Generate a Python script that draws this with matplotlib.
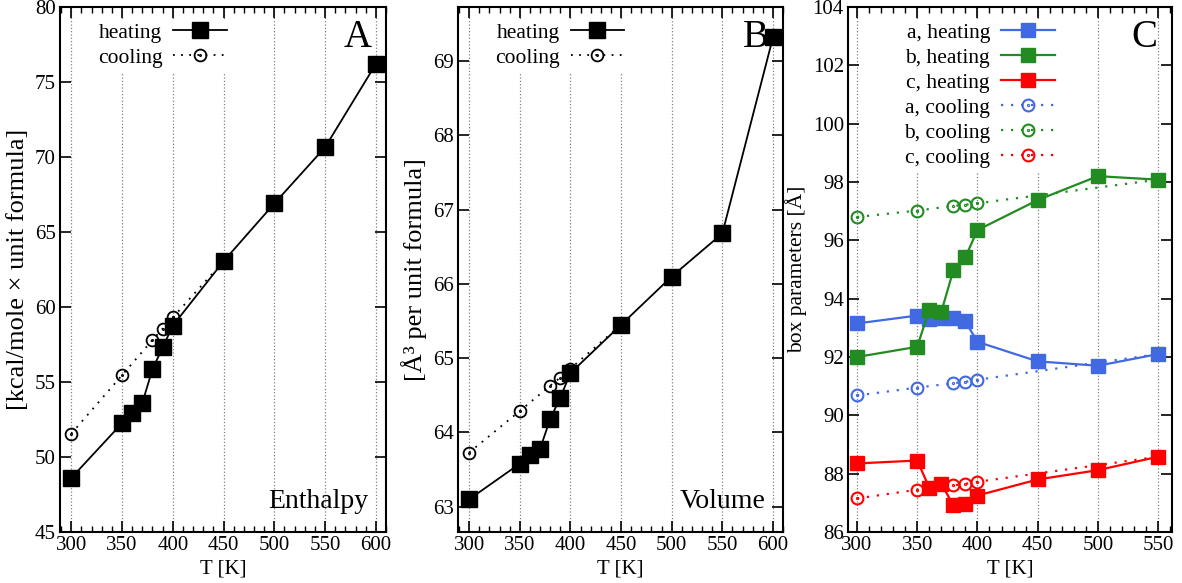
import matplotlib
matplotlib.use("Agg")
import matplotlib.pyplot as plt
from matplotlib.path import Path
from matplotlib.ticker import MultipleLocator

plt.rcParams['font.family'] = ['Liberation Serif', 'DejaVu Serif']

# ---- data ----
T_heat = [300, 350, 360, 370, 380, 390, 400, 450, 500, 550, 600]
T_cool = [300, 350, 380, 390, 400, 450]

enth_heat = [48.6, 52.25, 52.95, 53.6, 55.85, 57.3, 58.75, 63.05, 66.9, 70.65, 76.2]
enth_cool = [51.55, 55.45, 57.8, 58.55, 59.3, 63.05]

vol_heat = [63.1, 63.58, 63.7, 63.78, 64.18, 64.47, 64.8, 65.45, 66.1, 66.68, 69.32]
vol_cool = [63.73, 64.29, 64.63, 64.74, 64.86, 65.45]

T_box_heat = [300, 350, 360, 370, 380, 390, 400, 450, 500, 550]
T_box_cool = [300, 350, 380, 390, 400, 550]
a_heat = [93.15, 93.42, 93.3, 93.32, 93.32, 93.22, 92.52, 91.85, 91.7, 92.1]
b_heat = [92.0, 92.35, 93.62, 93.55, 94.97, 95.42, 96.35, 97.38, 98.2, 98.08]
c_heat = [88.35, 88.45, 87.52, 87.65, 86.92, 86.95, 87.25, 87.8, 88.12, 88.58]
a_cool = [90.68, 90.95, 91.1, 91.15, 91.22, 92.1]
b_cool = [96.8, 97.02, 97.18, 97.22, 97.27, 98.08]
c_cool = [87.15, 87.45, 87.6, 87.65, 87.72, 88.58]

# circle with a dot in the middle (gnuplot-like)
dot_circle = Path.make_compound_path(Path.unit_circle(), Path.circle((0, 0), 0.1))
dotted = (0, (1, 3.5))

TICK_FS = 15
LEG_FS = 15.5

fig = plt.figure(figsize=(11.82, 5.83), dpi=100)
axA = fig.add_axes([0.0508, 0.0875, 0.2758, 0.9005])
axB = fig.add_axes([0.3875, 0.0875, 0.2750, 0.9005])
axC = fig.add_axes([0.7174, 0.0875, 0.2741, 0.9005])


def style_axis(ax, xlim, ylim, ystep):
    ax.set_xlim(*xlim)
    ax.set_ylim(*ylim)
    ax.xaxis.set_major_locator(MultipleLocator(50))
    ax.xaxis.set_minor_locator(MultipleLocator(10))
    ax.yaxis.set_major_locator(MultipleLocator(ystep))
    ax.tick_params(axis='both', which='both', direction='in', top=True, right=True,
                   labelsize=TICK_FS, pad=3)
    ax.tick_params(which='major', length=8, width=1.2)
    ax.tick_params(which='minor', length=4, width=1.0)
    ax.tick_params(axis='y', which='minor', left=False, right=False)
    ax.grid(True, axis='x', which='major', linestyle=':', color='gray', linewidth=0.9)
    ax.set_axisbelow(True)
    for sp in ax.spines.values():
        sp.set_linewidth(1.5)
    ax.set_xlabel('T [K]', fontsize=TICK_FS, labelpad=3)


def make_legend(ax, handles, x_right):
    leg = ax.legend(handles, [h.get_label() for h in handles], loc='upper right',
                    bbox_to_anchor=(x_right, 0.978), borderaxespad=0,
                    markerfirst=False, numpoints=1, handlelength=2.5, handletextpad=0.5,
                    labelspacing=0.23, borderpad=0.2, fontsize=LEG_FS, frameon=True,
                    framealpha=1, facecolor='white', edgecolor='none', fancybox=False)
    leg.set_zorder(2.5)
    return leg


def black_panel(ax, x_h, y_h, x_c, y_c, ylim, ystep, ylabel, letter, name):
    cool, = ax.plot(x_c, y_c, linestyle=dotted, color='black', lw=1.3, marker=dot_circle,
                    ms=8.5, mfc='none', mec='black', mew=1.3, label='cooling', zorder=3)
    heat, = ax.plot(x_h, y_h, '-', color='black', lw=1.3, marker='s', ms=11, mfc='black',
                    mec='black', label='heating', zorder=4)
    style_axis(ax, (289, 610), ylim, ystep)
    ax.set_ylabel(ylabel, fontsize=19, labelpad=4)
    make_legend(ax, [heat, cool], 0.525)
    ax.text(0.955, 0.978, letter, transform=ax.transAxes, ha='right', va='top', fontsize=28)
    ax.text(0.945, 0.035, name, transform=ax.transAxes, ha='right', va='bottom', fontsize=20)


black_panel(axA, T_heat, enth_heat, T_cool, enth_cool, (45, 80), 5,
            '[kcal/mole \u00d7 unit formula]', 'A', 'Enthalpy')
black_panel(axB, T_heat, vol_heat, T_cool, vol_cool, (62.66, 69.73), 1,
            '[\u00c5\u00b3 per unit formula]', 'B', 'Volume')

# ---- panel C ----
colors = {'a': '#4169E1', 'b': '#228B22', 'c': '#FF0000'}
heat_lines = []
cool_lines = []
for key, yc in zip('abc', [a_cool, b_cool, c_cool]):
    ln, = axC.plot(T_box_cool, yc, linestyle=dotted, color=colors[key], lw=1.6,
                   marker=dot_circle, ms=8.5, mfc='none', mec=colors[key], mew=1.5,
                   label=f'{key}, cooling', zorder=3)
    cool_lines.append(ln)
for key, yh in zip('abc', [a_heat, b_heat, c_heat]):
    ln, = axC.plot(T_box_heat, yh, '-', color=colors[key], lw=1.6, marker='s', ms=10,
                   mfc=colors[key], mec=colors[key], label=f'{key}, heating', zorder=4)
    heat_lines.append(ln)

style_axis(axC, (292.5, 561.5), (86, 104), 2)
axC.set_ylabel('box parameters [\u00c5]', fontsize=15.5, labelpad=4)
make_legend(axC, heat_lines + cool_lines, 0.651)
axC.text(0.955, 0.978, 'C', transform=axC.transAxes, ha='right', va='top', fontsize=28)

fig.savefig('out.png', dpi=100)
